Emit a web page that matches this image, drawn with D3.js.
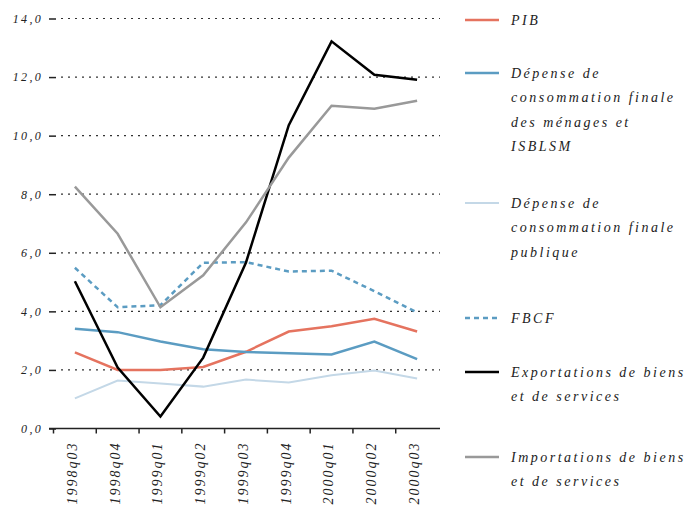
<!DOCTYPE html>
<html><head><meta charset="utf-8">
<script src="https://cdn.jsdelivr.net/npm/d3@7"></script>
<style>
body{margin:0;background:#fff;}
text{font-family:"Liberation Serif","DejaVu Serif",serif;font-style:italic;fill:#222;}
</style></head>
<body><svg id="c" width="689" height="509"></svg>
<script>
const categories = ["1998q03","1998q04","1999q01","1999q02","1999q03","1999q04","2000q01","2000q02","2000q03"];
const pib      = [2.6, 2.0, 2.0, 2.1, 2.62, 3.31, 3.49, 3.75, 3.31];
const menages  = [3.41, 3.29, 2.97, 2.71, 2.61, 2.57, 2.53, 2.97, 2.37];
const publique = [1.03, 1.64, 1.54, 1.43, 1.67, 1.57, 1.82, 1.98, 1.71];
const fbcf     = [5.49, 4.14, 4.21, 5.66, 5.68, 5.36, 5.39, 4.69, 3.96];
const exportsS = [5.03, 2.08, 0.41, 2.42, 5.67, 10.36, 13.22, 12.08, 11.91];
const importsS = [8.26, 6.65, 4.14, 5.23, 7.04, 9.25, 11.02, 10.92, 11.19];
const yTicks   = [0, 2, 4, 6, 8, 10, 12, 14];

const seriesNames = [
  ["PIB"],
  ["Dépense de","consommation finale","des ménages et","ISBLSM"],
  ["Dépense de","consommation finale","publique"],
  ["FBCF"],
  ["Exportations de biens","et de services"],
  ["Importations de biens","et de services"]
];
const series = [
  {name: seriesNames[0], values: pib,      color: "#e5735f", width: 2.5, dash: null},
  {name: seriesNames[1], values: menages,  color: "#5b9cc2", width: 2.5, dash: null},
  {name: seriesNames[2], values: publique, color: "#c4d8e7", width: 2,   dash: null},
  {name: seriesNames[3], values: fbcf,     color: "#5b9cc2", width: 2.5, dash: "5,4"},
  {name: seriesNames[4], values: exportsS, color: "#000000", width: 2.5, dash: null},
  {name: seriesNames[5], values: importsS, color: "#999999", width: 2.5, dash: null}
];

const svg = d3.select("#c");
const x = d3.scaleBand().domain(categories).range([53.5, 438.5]);
const y = d3.scaleLinear().domain([0, 14]).range([428.5, 18.5]);

// gridlines
const grid = svg.append("g");
grid.selectAll("line.g").data(yTicks.filter(d => d > 0)).join("line")
  .attr("x1", 57).attr("x2", 440)
  .attr("y1", d => y(d)).attr("y2", d => y(d))
  .attr("stroke", "#333").attr("stroke-width", 1.2).attr("stroke-dasharray", "2,5")
  .attr("stroke-dashoffset", -4);

// y axis (tick marks + labels only)
const yAxis = d3.axisLeft(y).tickValues(yTicks).tickSize(7).tickPadding(6)
  .tickFormat(d => d3.format(".1f")(d).replace(".", ","));
const yg = svg.append("g").attr("transform", "translate(56,0)").call(yAxis);
yg.select(".domain").remove();
yg.selectAll(".tick line").attr("stroke", "#222").attr("stroke-width", 1.5);
yg.selectAll(".tick text").style("font-size", "12px").style("letter-spacing", "2.3px").attr("fill", "#222");

// x axis
const xAxis = d3.axisBottom(x).tickSize(0).tickFormat(d => d);
const xg = svg.append("g").attr("transform", "translate(0,428.5)").call(xAxis);
xg.select(".domain").remove();
xg.append("line").attr("x1", 49).attr("x2", 440).attr("stroke", "#222").attr("stroke-width", 1.5);
xg.selectAll(".tickmark").data(categories).join("line")
  .attr("x1", d => x(d)).attr("x2", d => x(d)).attr("y1", 0).attr("y2", 5)
  .attr("stroke", "#222").attr("stroke-width", 1.5);
xg.selectAll(".tick text")
  .style("font-size", "14px").style("letter-spacing", "2px").attr("fill", "#222")
  .attr("text-anchor", "end").attr("dy", "0.35em")
  .attr("transform", "translate(-3,13) rotate(-90)").attr("y", 0).attr("x", 0);

// lines
const line = d3.line().x((d, i) => x(categories[i]) + x.bandwidth() / 2).y(d => y(d));
svg.append("g").selectAll("path").data(series).join("path")
  .attr("d", d => line(d.values)).attr("fill", "none")
  .attr("stroke", d => d.color).attr("stroke-width", d => d.width)
  .attr("stroke-dasharray", d => d.dash).attr("stroke-linejoin", "miter");

// legend
const legY = [20, 73, 203, 318, 372, 457];
const lg = svg.append("g");
series.forEach((s, i) => {
  const g = lg.append("g").attr("transform", `translate(0,${legY[i]})`);
  g.append("line").attr("x1", 465).attr("x2", 499).attr("y1", 0).attr("y2", 0)
    .attr("stroke", s.color).attr("stroke-width", s.width).attr("stroke-dasharray", s.dash);
  s.name.forEach((t, j) => {
    g.append("text").attr("x", 511).attr("y", j * 24.3).attr("dy", "0.35em")
      .style("font-size", "14px").style("letter-spacing", "2.5px").text(t);
  });
});
</script></body></html>
